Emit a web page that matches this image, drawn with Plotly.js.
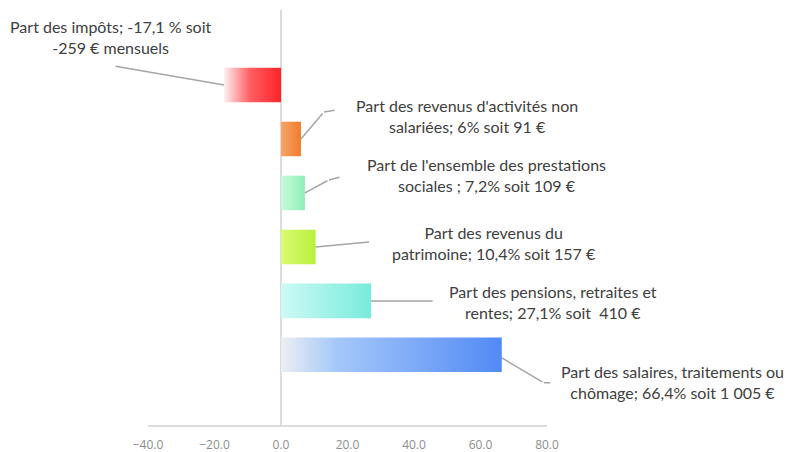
<!DOCTYPE html>
<html>
<head>
<meta charset="utf-8">
<script src="https://cdn.plot.ly/plotly-3.0.1.min.js"></script>
<style>
  html, body { margin: 0; padding: 0; background: #ffffff; }
  #chart { width: 792px; height: 452px; }
</style>
</head>
<body>
<div id="chart"></div>
<script>
// ---- Data ----
const categories = [
  "Part des impôts",
  "Part des revenus d'activités non salariées",
  "Part de l'ensemble des prestations sociales",
  "Part des revenus du patrimoine",
  "Part des pensions, retraites et rentes",
  "Part des salaires, traitements ou chômage"
];
const shares = [-17.1, 6, 7.2, 10.4, 27.1, 66.4];
const labels = [
  "Part des impôts; -17,1 % soit<br>-259 € mensuels",
  "Part des revenus d'activités non<br>salariées; 6% soit 91 €",
  "Part de l'ensemble des prestations<br>sociales ; 7,2% soit 109 €",
  "Part des revenus du<br>patrimoine; 10,4% soit 157 €",
  "Part des pensions, retraites et<br>rentes; 27,1% soit  410 €",
  "Part des salaires, traitements ou<br>chômage; 66,4% soit 1 005 €"
];
const xTicks = [-40, -20, 0, 20, 40, 60, 80];

// ---- Styles ----
const barScales = [
  [[0, "rgb(255,240,240)"], [0.45, "rgb(255,95,100)"], [1, "rgb(255,35,40)"]],
  [[0, "rgb(246,165,105)"], [1, "rgb(240,125,45)"]],
  [[0, "rgb(200,250,222)"], [1, "rgb(140,240,180)"]],
  [[0, "rgb(218,250,115)"], [1, "rgb(185,240,60)"]],
  [[0, "rgb(205,250,245)"], [1, "rgb(120,235,220)"]],
  [[0, "rgb(236,239,242)"], [0.25, "rgb(165,200,250)"], [1, "rgb(82,138,245)"]]
];
const halfH = 0.32;
// label placement (pixel offsets from bar tip)
const textShift = [[-113, 48], [166, 23], [182, 18], [178, 4], [182, -1], [171, -27]];
// leader lines: list of segments [xshift, yshift, ax, ay] relative to bar tip
const leaders = [
  [[0, 0, -110, -19]],
  [[0, 0, 23, -27], [23, 27, 12, -2]],
  [[0, 0, 24, -13], [24, 13, 12, -3]],
  [[0, 0, 55, -5]],
  [[0, 0, 63, 0]],
  [[0, -3, 42, 25], [42, -28, 8, 0]]
];

const traces = shares.map((v, i) => {
  const x0 = Math.min(0, v), x1 = Math.max(0, v);
  return {
    type: 'scatter',
    mode: 'lines',
    x: [x0, x1, x1, x0, x0],
    y: [i - halfH, i - halfH, i + halfH, i + halfH, i - halfH],
    fill: 'toself',
    fillgradient: { type: 'horizontal', colorscale: barScales[i] },
    line: { width: 0, color: 'rgba(0,0,0,0)' },
    name: categories[i],
    hoverinfo: 'name',
    showlegend: false
  };
});

const annotations = [];
shares.forEach((v, i) => {
  annotations.push({
    x: v, y: i, xref: 'x', yref: 'y',
    text: labels[i], showarrow: false,
    xshift: textShift[i][0], yshift: textShift[i][1],
    xanchor: 'center', yanchor: 'middle', align: 'center',
    font: { family: 'Lato, sans-serif', size: 16, color: '#404040' }
  });
  leaders[i].forEach(s => {
    annotations.push({
      x: v, y: i, xref: 'x', yref: 'y',
      text: '', showarrow: true, arrowhead: 0, arrowwidth: 1.5,
      arrowcolor: '#a6a6a6', standoff: 0, startstandoff: 0,
      xshift: s[0], yshift: s[1], ax: s[2], ay: s[3]
    });
  });
});

const layout = {
  width: 792, height: 452,
  margin: { l: 148, r: 245, t: 10, b: 27 },
  paper_bgcolor: '#ffffff', plot_bgcolor: '#ffffff',
  showlegend: false,
  xaxis: {
    range: [-40, 80],
    tickvals: xTicks,
    tickformat: '.1f',
    showgrid: false,
    zeroline: true, zerolinecolor: '#dcdcdc', zerolinewidth: 2,
    showline: true, linecolor: '#dcdcdc', linewidth: 2,
    ticks: '',
    ticklabelstandoff: 8,
    tickfont: { family: 'Open Sans, sans-serif', size: 12, color: '#8c8c8c' },
    fixedrange: true
  },
  yaxis: {
    range: [6.3, -1.39],
    showgrid: false, zeroline: false, showline: false,
    showticklabels: false, ticks: '',
    fixedrange: true
  },
  annotations: annotations
};

Plotly.newPlot('chart', traces, layout, { displayModeBar: false, staticPlot: true });
</script>
</body>
</html>
